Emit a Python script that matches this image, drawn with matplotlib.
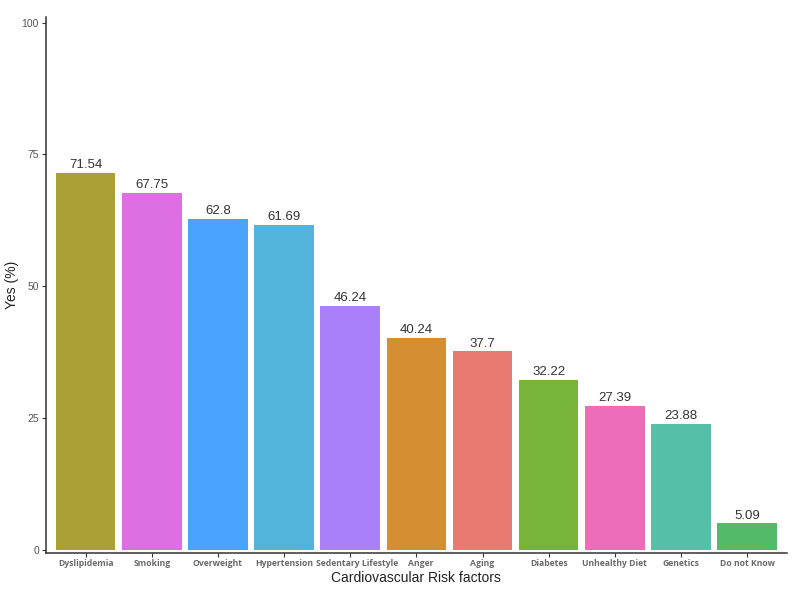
import matplotlib
matplotlib.use("Agg")
import matplotlib.pyplot as plt
import matplotlib.transforms as mtransforms

categories = ["Dyslipidemia", "Smoking", "Overweight", "Hypertension",
              "Sedentary Lifestyle", "Anger", "Aging", "Diabetes",
              "Unhealthy Diet", "Genetics", "Do not Know"]
values = [71.54, 67.75, 62.8, 61.69, 46.24, 40.24, 37.7, 32.22, 27.39, 23.88, 5.09]
labels = ["71.54", "67.75", "62.8", "61.69", "46.24", "40.24", "37.7",
          "32.22", "27.39", "23.88", "5.09"]
colors = ["#AAA035", "#DE6FE3", "#4AA3FC", "#52B3DB", "#A980F7", "#D48F33",
          "#E87A72", "#78B33A", "#EC6CB8", "#55BFA8", "#53BA68"]
yticks = [0, 25, 50, 75, 100]

plt.rcParams['font.family'] = ['Liberation Sans', 'DejaVu Sans']

fig = plt.figure(figsize=(8, 5.95), dpi=100)
ax = fig.add_axes([0.0575, 0.0706, 0.926, 0.9])

x = list(range(1, len(categories) + 1))
ax.bar(x, values, width=0.9, color=colors, edgecolor='none')
for xi, v, lab in zip(x, values, labels):
    ax.text(xi, v + 0.3, lab, ha='center', va='bottom', fontsize=9.5, color='#333333')

ax.set_xlim(0.4, 11.6)
ax.set_ylim(-0.57, 100.95)
ax.set_xticks(x)
ax.set_xticklabels([])
# category labels drawn as text; two crowded ones nudged right as in the reference
nudges = {"Sedentary Lifestyle": 7, "Anger": 4}
base = ax.get_xaxis_transform()
for xi, cat in zip(x, categories):
    tr = base + mtransforms.ScaledTranslation(nudges.get(cat, 0) / 100, -6 / 100,
                                              fig.dpi_scale_trans)
    ax.text(xi, 0, cat, transform=tr, ha='center', va='top', fontsize=6.2,
            color='#6a6a6a', fontweight='bold', family=['Open Sans', 'DejaVu Sans'])
ax.set_yticks(yticks)
ax.set_yticklabels([str(t) for t in yticks], fontsize=7.5, color='#555555')
ax.tick_params(axis='both', length=3, width=0.8, color='#333333', pad=2)
ax.set_xlabel("Cardiovascular Risk factors", fontsize=10, color='#222222')
ax.xaxis.set_label_coords(0.5, -0.033)
ax.set_ylabel("Yes (%)", fontsize=10, color='#222222')
ax.yaxis.set_label_coords(-0.037, 0.5)
for s in ['top', 'right']:
    ax.spines[s].set_visible(False)
for s in ['left', 'bottom']:
    ax.spines[s].set_color('#333333')
    ax.spines[s].set_linewidth(1.1)

fig.savefig("out.png", dpi=100, facecolor='white')
